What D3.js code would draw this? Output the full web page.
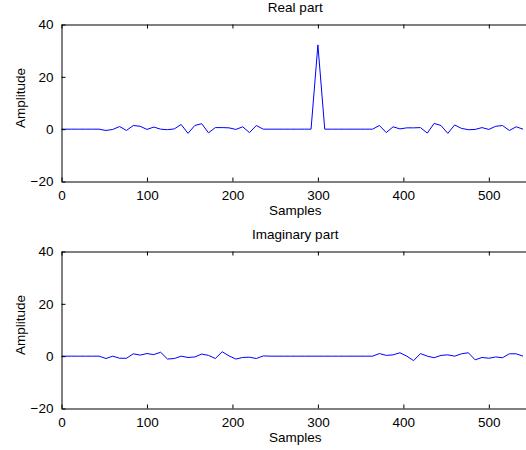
<!DOCTYPE html>
<html>
<head>
<meta charset="utf-8">
<script src="https://cdn.jsdelivr.net/npm/d3@7"></script>
<style>
  html, body { margin: 0; padding: 0; background: #fff; }
  svg { display: block; }
  text { font-family: "Liberation Sans", Arial, Helvetica, sans-serif; fill: #000; }
</style>
</head>
<body>
<script>
// ---- data ----
const samples = [0, 4, 12, 20, 28, 36, 44, 52, 60, 68, 76, 84, 92, 100, 108, 116, 124, 132, 140, 148,
  156, 164, 172, 180, 188, 196, 204, 212, 220, 228, 236, 244, 252, 260, 268, 276, 284, 292, 300,
  308, 316, 324, 332, 340, 348, 356, 364, 372, 380, 388, 396, 404, 412, 420, 428, 436, 444, 452,
  460, 468, 476, 484, 492, 500, 508, 516, 524, 532, 540];
const realPart = [0, 0, 0, 0, 0, 0, 0, -0.5, -0.1, 1.0, -0.5, 1.4, 1.1, -0.1, 0.8, 0, -0.2, 0.1, 1.8, -1.6,
  1.4, 2.1, -1.4, 0.6, 0.6, 0.5, -0.1, 0.9, -1.3, 1.4, 0, 0, 0, 0, 0, 0, 0, 0, 32.2,
  0, 0, 0, 0, 0, 0, 0, 0, 1.4, -1.3, 0.9, 0.1, 0.5, 0.5, 0.6, -1.5, 2.2, 1.4, -1.6,
  1.6, 0.3, -0.2, -0.1, 0.6, -0.1, 1.1, 1.4, -0.5, 0.9, 0];
const imagPart = [0, 0, 0, 0, 0, 0, 0, -0.9, 0, -0.8, -0.8, 0.9, 0.4, 1.0, 0.6, 1.5, -1.1, -0.9, 0, -0.5,
  -0.3, 0.8, 0.3, -0.9, 1.7, 0.1, -1.1, -0.5, -0.4, -0.9, 0.1, 0, 0, 0, 0, 0, 0, 0, 0,
  0, 0, 0, 0, 0, 0, 0, 0, 1.0, 0.3, 0.5, 1.3, 0, -1.7, 1.0, 0, -0.6, 0.3, 0.5,
  0, 0.9, 1.3, -1.4, -0.5, -0.8, -0.3, -0.6, 0.9, 0.9, 0];
const xTicks = [0, 100, 200, 300, 400, 500];
const yTicks = [-20, 0, 20, 40];
const xDomain = [0, 547];
const yDomain = [-20, 40];
const panels = [
  { title: "Real part", values: realPart, top: 24.5, bottom: 181.5 },
  { title: "Imaginary part", values: imagPart, top: 251.5, bottom: 408.5 }
];

// ---- drawing ----
const W = 526, H = 450;
const left = 61.5, right = 529;
const svg = d3.select("body").append("svg").attr("width", W).attr("height", H);
const fs = 13.5;

const x = d3.scaleLinear().domain(xDomain).range([left, right]);

panels.forEach(p => {
  const y = d3.scaleLinear().domain(yDomain).range([p.bottom, p.top]);
  const g = svg.append("g");

  // line
  const line = d3.line().x((d, i) => x(samples[i])).y(d => y(d));
  g.append("path").datum(p.values)
    .attr("d", line)
    .attr("fill", "none")
    .attr("stroke", "#0000ff")
    .attr("stroke-width", 1);

  // bottom axis
  const xb = g.append("g").attr("transform", `translate(0,${p.bottom})`)
    .call(d3.axisBottom(x).tickValues(xTicks).tickSizeInner(-4).tickSizeOuter(0).tickPadding(9));
  // top axis (ticks only)
  const xt = g.append("g").attr("transform", `translate(0,${p.top})`)
    .call(d3.axisTop(x).tickValues(xTicks).tickSizeInner(-4).tickSizeOuter(0).tickFormat(""));
  // left axis
  const yl = g.append("g").attr("transform", `translate(${left},0)`)
    .call(d3.axisLeft(y).tickValues(yTicks).tickSizeInner(-4).tickSizeOuter(0).tickPadding(8));

  [xb, xt, yl].forEach(a => {
    a.selectAll("path.domain").attr("stroke", "#000").attr("stroke-width", 1);
    a.selectAll(".tick line").attr("stroke", "#000").attr("stroke-width", 1);
    a.selectAll("text").attr("font-size", fs).attr("font-family", '"Liberation Sans", Arial, sans-serif').attr("fill", "#000");
  });

  // title
  g.append("text").attr("x", (left + right) / 2).attr("y", p.top - 13)
    .attr("text-anchor", "middle").attr("font-size", fs).text(p.title);
  // x label
  g.append("text").attr("x", (left + right) / 2).attr("y", p.bottom + 33)
    .attr("text-anchor", "middle").attr("font-size", fs).text("Samples");
  // y label
  const cy = (p.top + p.bottom) / 2 - 5;
  g.append("text").attr("transform", `translate(25,${cy}) rotate(-90)`)
    .attr("text-anchor", "middle").attr("font-size", fs).text("Amplitude");
});
</script>
</body>
</html>
